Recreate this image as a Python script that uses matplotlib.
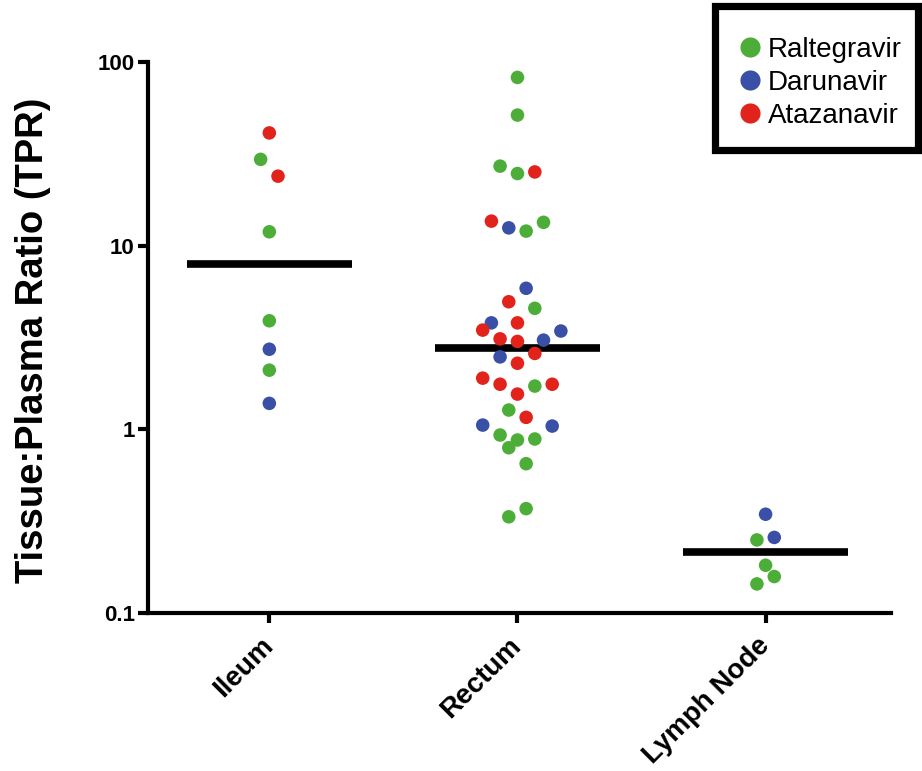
import matplotlib
matplotlib.use("Agg")
import matplotlib.pyplot as plt
from matplotlib.lines import Line2D
from matplotlib.patches import Rectangle

# ---------------- data ----------------
categories = ["Ileum", "Rectum", "Lymph Node"]
medians = [7.91, 2.78, 0.216]

# Raltegravir (green)
ral_cat = [0, 0, 0, 0,
           1, 1, 1, 1, 1, 1, 1, 1, 1, 1, 1, 1, 1, 1, 1, 1,
           2, 2, 2, 2]
ral_tpr = [29.5, 11.9, 3.90, 2.10,
           82.4, 51.4, 27.1, 24.7, 12.0, 13.4, 4.56, 1.72, 1.274, 0.931, 0.875, 0.886, 0.794, 0.650, 0.370, 0.334,
           0.250, 0.182, 0.158, 0.144]
ral_slot = [-0.5, 0, 0, 0,
            0, 0, -1, 0, 0.5, 1.5, 1, 1, -0.5, -1, 0, 1, -0.5, 0.5, 0.5, -0.5,
            -0.5, 0, 0.5, -0.5]

# Darunavir (blue)
dar_cat = [0, 0,
           1, 1, 1, 1, 1, 1, 1, 1,
           2, 2]
dar_tpr = [2.73, 1.385,
           12.5, 5.86, 3.80, 3.43, 3.06, 2.48, 1.055, 1.042,
           0.345, 0.258]
dar_slot = [0, 0,
            -0.5, 0.5, -1.5, 2.5, 1.5, -1, -2, 2,
            0, 0.5]

# Atazanavir (red)
ata_cat = [0, 0,
           1, 1, 1, 1, 1, 1, 1, 1, 1, 1, 1, 1, 1, 1]
ata_tpr = [41.1, 23.9,
           25.2, 13.6, 4.95, 3.80, 3.47, 3.11, 3.01, 2.59, 2.29, 1.90, 1.76, 1.76, 1.556, 1.162]
ata_slot = [0, 0.5,
            1, -1.5, -0.5, 0, -2, -1, 0, 1, 0, -2, -1, 2, 0, 0.5]

series = [
    ("Raltegravir", "#4cae38", ral_cat, ral_tpr, ral_slot),
    ("Darunavir", "#3a50a6", dar_cat, dar_tpr, dar_slot),
    ("Atazanavir", "#e2231c", ata_cat, ata_tpr, ata_slot),
]

# ---------------- figure ----------------
plt.rcParams["font.family"] = ["Liberation Sans", "DejaVu Sans"]
fig = plt.figure(figsize=(9.22, 7.71), dpi=100)
ax = fig.add_axes([0.1605, 0.2049, 0.8055, 0.7147])

slot_w = 0.070
for name, col, cats, vals, slots in series:
    xs = [c + s * slot_w for c, s in zip(cats, slots)]
    ax.scatter(xs, vals, s=95, color=col, edgecolors="none", zorder=3)

half = 0.333
for i, m in enumerate(medians):
    ax.hlines(m, i - half, i + half, colors="black", linewidth=5.5, zorder=2)

ax.set_yscale("log")
ax.set_ylim(0.1, 100)
ax.set_xlim(-0.489, 2.504)
ax.set_yticks([0.1, 1, 10, 100])
ax.set_yticklabels(["0.1", "1", "10", "100"])
ax.minorticks_off()
ax.set_xticks(range(len(categories)))
ax.set_xticklabels(categories, rotation=45, ha="right", va="center",
                   rotation_mode="anchor", fontsize=20, fontweight="bold")
for lab in ax.get_yticklabels():
    lab.set_fontweight("bold")
    lab.set_fontsize(16)

for sp in ["top", "right"]:
    ax.spines[sp].set_visible(False)
for sp in ["left", "bottom"]:
    ax.spines[sp].set_linewidth(3)
ax.tick_params(axis="both", direction="out", length=7, width=3)
ax.tick_params(axis="y", pad=2.5)
ax.tick_params(axis="x", pad=14)

ax.set_ylabel("Tissue:Plasma Ratio (TPR)", fontsize=27.5, fontweight="bold")
ax.yaxis.set_label_coords(-0.131, 0.495)

# legend: frame drawn as a rectangle, entries via matplotlib legend
fig.add_artist(Rectangle((0.776, 0.8048), 0.9957 - 0.776, 0.99157 - 0.8048,
                         transform=fig.transFigure, facecolor="white",
                         edgecolor="black", linewidth=5.2, zorder=5))
handles = [Line2D([0], [0], marker="o", linestyle="none", markersize=14.5,
                  markerfacecolor=col, markeredgecolor="none", label=name)
           for name, col, *_ in series]
leg = fig.legend(handles=handles, loc="center", bbox_to_anchor=(0.8865, 0.8927),
                 fontsize=20, frameon=False, handletextpad=0.05,
                 borderpad=0, labelspacing=0.25, handlelength=1.2,
                 borderaxespad=0)
leg.set_zorder(6)

fig.savefig("out.png", dpi=100)
